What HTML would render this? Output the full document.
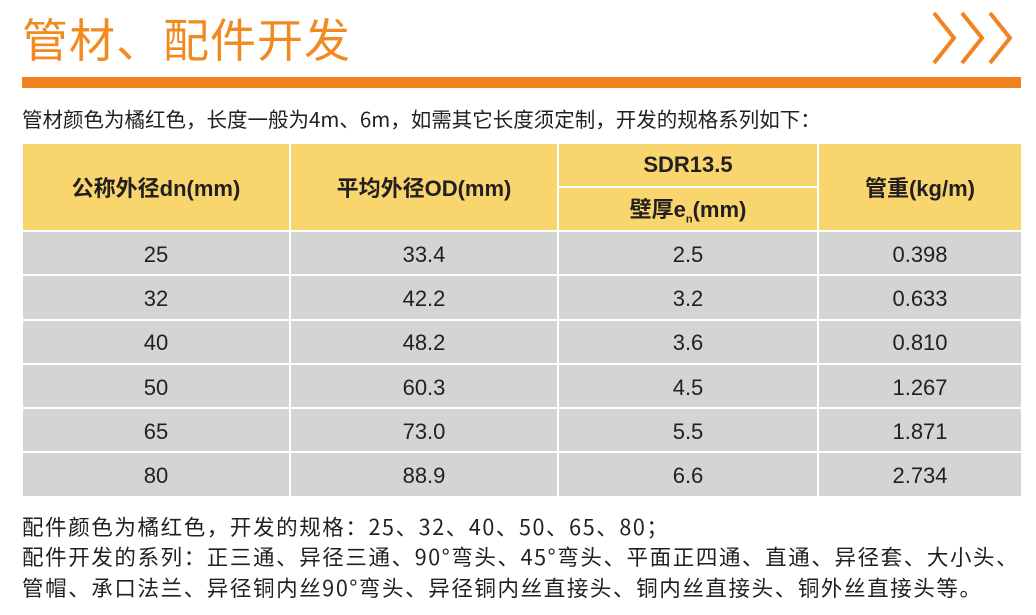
<!DOCTYPE html>
<html><head><meta charset="utf-8"><style>
body{margin:0;width:1036px;height:615px;background:#fff;position:relative;overflow:hidden;font-family:"Liberation Sans","Noto Sans CJK SC",sans-serif;color:#231f20}
.t{position:absolute;left:22px;top:8px;font-size:46px;color:#f28a22;font-family:"Noto Sans CJK SC",sans-serif;letter-spacing:1px;line-height:60px}
.bar{position:absolute;left:22px;top:77px;width:999px;height:11px;background:#f28220}
.p{position:absolute;left:22px;font-size:20.5px;font-family:"Noto Sans CJK SC",sans-serif;white-space:nowrap;line-height:30px}
table{position:absolute;left:21px;top:142px;border-collapse:separate;border-spacing:2px;width:1002px}
td{text-align:center;font-size:22px;padding:0;color:#231f20}
.h td{background:#f9d56e;font-weight:bold;font-family:"Liberation Sans","Noto Sans CJK SC",sans-serif}
.r td{background:#d4d4d4;height:39.3px;padding-top:3px}
.b{font-size:21.5px;letter-spacing:1.6px}
</style></head><body>
<div class="t">管材、配件开发</div>
<svg style="position:absolute;left:930px;top:10px" width="92" height="56"><g fill="none" stroke="#f28220" stroke-width="4"><polyline points="4,3 24,28 4,53"/><polyline points="32,3 52,28 32,53"/><polyline points="60,3 80,28 60,53"/></g></svg>
<div class="bar"></div>
<div class="p" style="top:103px">管材颜色为橘红色，长度一般为4m、6m，如需其它长度须定制，开发的规格系列如下：</div>
<table>
<tr class="h"><td rowspan="2" style="width:266px">公称外径dn(mm)</td><td rowspan="2" style="width:266px">平均外径OD(mm)</td><td style="width:258px;height:42px">SDR13.5</td><td rowspan="2">管重(kg/m)</td></tr>
<tr class="h"><td style="height:42px">壁厚e<sub style="font-size:11px">n</sub>(mm)</td></tr>
<tr class="r"><td>25</td><td>33.4</td><td>2.5</td><td>0.398</td></tr>
<tr class="r"><td>32</td><td>42.2</td><td>3.2</td><td>0.633</td></tr>
<tr class="r"><td>40</td><td>48.2</td><td>3.6</td><td>0.810</td></tr>
<tr class="r"><td>50</td><td>60.3</td><td>4.5</td><td>1.267</td></tr>
<tr class="r"><td>65</td><td>73.0</td><td>5.5</td><td>1.871</td></tr>
<tr class="r"><td>80</td><td>88.9</td><td>6.6</td><td>2.734</td></tr>
</table>
<div class="p b" style="top:512px">配件颜色为橘红色，开发的规格：25、32、40、50、65、80；</div>
<div class="p b" style="top:542px">配件开发的系列：正三通、异径三通、90°弯头、45°弯头、平面正四通、直通、异径套、大小头、</div>
<div class="p b" style="top:573px">管帽、承口法兰、异径铜内丝90°弯头、异径铜内丝直接头、铜内丝直接头、铜外丝直接头等。</div>
</body></html>
